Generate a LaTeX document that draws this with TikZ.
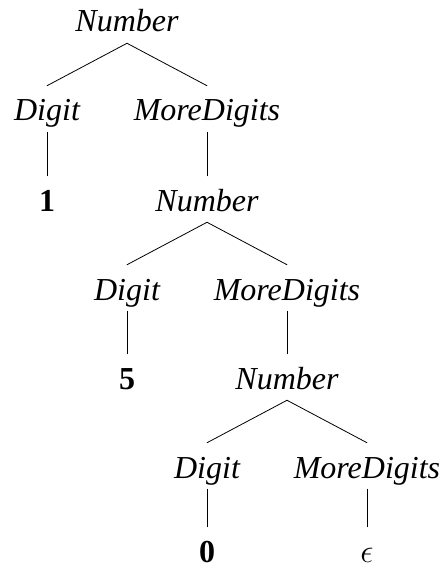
\documentclass[tikz,border=0pt]{standalone}
\usepackage{fontspec}
\setmainfont{Liberation Serif}
\usepackage{tikz}
\usetikzlibrary{positioning}
\tikzstyle{branch} = [line width=0.6pt, line cap=round]

\begin{document}
\begin{tikzpicture}[x=0.75pt, y=-0.75pt]
	\useasboundingbox (0,0) rectangle (442,570);
	\coordinate (number1) at (127,32);
	\coordinate (digit1) at (47,121);
	\coordinate (moredigits1) at (207,121);
	\coordinate (one) at (47,211);
	\coordinate (number2) at (207,211);
	\coordinate (digit2) at (127,300);
	\coordinate (moredigits2) at (287,300);
	\coordinate (five) at (127,389);
	\coordinate (number3) at (287,389);
	\coordinate (digit3) at (207,478);
	\coordinate (moredigits3) at (367,478);
	\coordinate (zero) at (207,562);
	\coordinate (empty) at (367,562);
	% Nonterminals
	\begin{scope}[every node/.style={anchor=base, text height=18pt, text depth=0pt, inner sep=8.25pt, font=\fontsize{24}{28}\selectfont\itshape}]
	\node[name=number1] at (number1) {Number};
	\node[name=digit1] at (digit1) {Digit};
	\node[name=moredigits1] at (moredigits1) {MoreDigits};
	\node[name=number2] at (number2) {Number};
	\node[name=digit2] at (digit2) {Digit};
	\node[name=moredigits2] at (moredigits2) {MoreDigits};
	\node[name=number3] at (number3) {Number};
	\node[name=digit3] at (digit3) {Digit};
	\node[name=moredigits3] at (moredigits3) {MoreDigits};
	\end{scope}
	% Terminals
	\begin{scope}[every node/.style={anchor=base, text height=26.25pt, text depth=0pt, inner sep=0pt, font=\fontsize{24}{28}\selectfont\bfseries}]
	\node[name=one] at (one) {1};
	\node[name=five] at (five) {5};
	\node[name=zero] at (zero) {0};
	\node[name=empty] at (empty) {$\epsilon$};
	\end{scope}
	\draw [branch] (number1.south)--(digit1.north);
	\draw [branch] (number1.south)--(moredigits1.north);
	\draw [branch] (digit1.south)--(one.north);
	\draw [branch] (moredigits1.south)--(number2.north);
	\draw [branch] (number2.south)--(digit2.north);
	\draw [branch] (number2.south)--(moredigits2.north);
	\draw [branch] (digit2.south)--(five.north);
	\draw [branch] (moredigits2.south)--(number3.north);
	\draw [branch] (number3.south)--(digit3.north);
	\draw [branch] (number3.south)--(moredigits3.north);
	\draw [branch] (digit3.south)--(zero.north);
	\draw [branch] (moredigits3.south)--(empty.north);
\end{tikzpicture}
\end{document}
